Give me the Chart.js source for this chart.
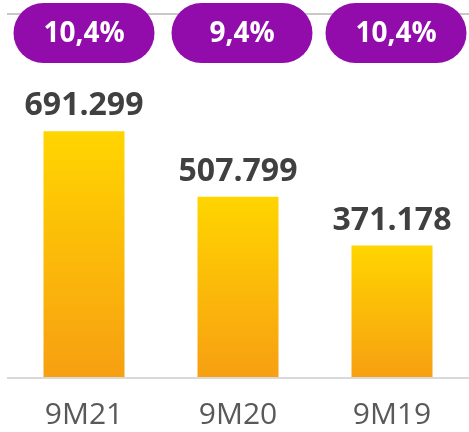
<!DOCTYPE html>
<html>
<head>
<meta charset="utf-8">
<script src="https://cdn.jsdelivr.net/npm/chart.js@4/dist/chart.umd.min.js"></script>
<style>
  html, body { margin:0; padding:0; background:#fff; }
  #wrap { width:469px; height:432px; position:relative; }
</style>
</head>
<body>
<div id="wrap"><canvas id="c"></canvas></div>
<script>
// data
const periods  = ['9M21', '9M20', '9M19'];
const revenue  = [691299, 507799, 371178];
const margins  = ['10,4%', '9,4%', '10,4%'];
const yMax     = 1020000;

const fmt = v => v.toLocaleString('de-DE');

// gradient per bar, top of the bar is yellow
function barFill(ctx){
      const chart = ctx.chart;
      if(!chart.chartArea) return '#FFD200';
      const y   = chart.scales.y;
      const top = y.getPixelForValue(revenue[ctx.dataIndex]);
      const bot = y.getPixelForValue(0);
      const g = chart.ctx.createLinearGradient(0, top, 0, bot);
      g.addColorStop(0, '#FFD500');
      g.addColorStop(1, '#F79F12');
      return g;
}

// value on top of every bar + purple pills on the top line
const labelsPlugin = {
      id: 'labels',
      afterDatasetsDraw(chart){
            const c = chart.ctx;
            const meta = chart.getDatasetMeta(0);
            c.save();
            c.textAlign = 'center';
            c.textBaseline = 'alphabetic';
            c.font = 'bold 32px "Open Sans"';
            c.fillStyle = '#404040';
            meta.data.forEach((bar, i) => {
                  c.fillText(fmt(revenue[i]), bar.x, bar.y - 16);
            });

            // pills sit a little right of the bars except the first one
            const w = 141, h = 60, top = 3, r = 30;
            meta.data.forEach((bar, i) => {
                  const cx = bar.x + (i ? 4 : 0);
                  c.beginPath();
                  c.roundRect(cx - w/2, top, w, h, r);
                  c.fillStyle = '#910CAA';
                  c.fill();
                  c.fillStyle = '#ffffff';
                  c.font = 'bold 28px "Open Sans"';
                  c.textBaseline = 'middle';
                  c.fillText(margins[i], cx, top + h/2 + 1);
            });
            c.restore();
      }
};

new Chart(document.getElementById('c'), {
      type: 'bar',
      data: {
            labels: periods,
            datasets: [{
                  data: revenue,
                  backgroundColor: barFill,
                  borderWidth: 0,
                  categoryPercentage: 1,
                  barPercentage: 0.526,
            }]
      },
      options: {
            responsive: true,
            maintainAspectRatio: false,
            animation: false,
            layout: { padding: { top: 14, left: 7, right: 0, bottom: 0 } },
            plugins: {
                  legend:  { display: false },
                  tooltip: { enabled: false },
            },
            scales: {
                  x: {
                        afterFit: s => { s.height = 54 },
                        grid:   { display: false, drawTicks: false },
                        border: { display: false },
                        ticks:  { padding: 19, color: '#595959', font: { family: 'Open Sans', size: 30 } },
                  },
                  y: {
                        min: 0, max: yMax,
                        afterFit: s => { s.width = 0 },
                        ticks:  { display: false, stepSize: yMax },
                        border: { display: false },
                        grid: {
                              drawTicks: false,
                              color:     ctx => ctx.tick && ctx.tick.value === 0 ? '#D9D9D9' : '#C8C8C8',
                              lineWidth: 2,
                        },
                  }
            }
      },
      plugins: [labelsPlugin]
});
</script>
</body>
</html>
